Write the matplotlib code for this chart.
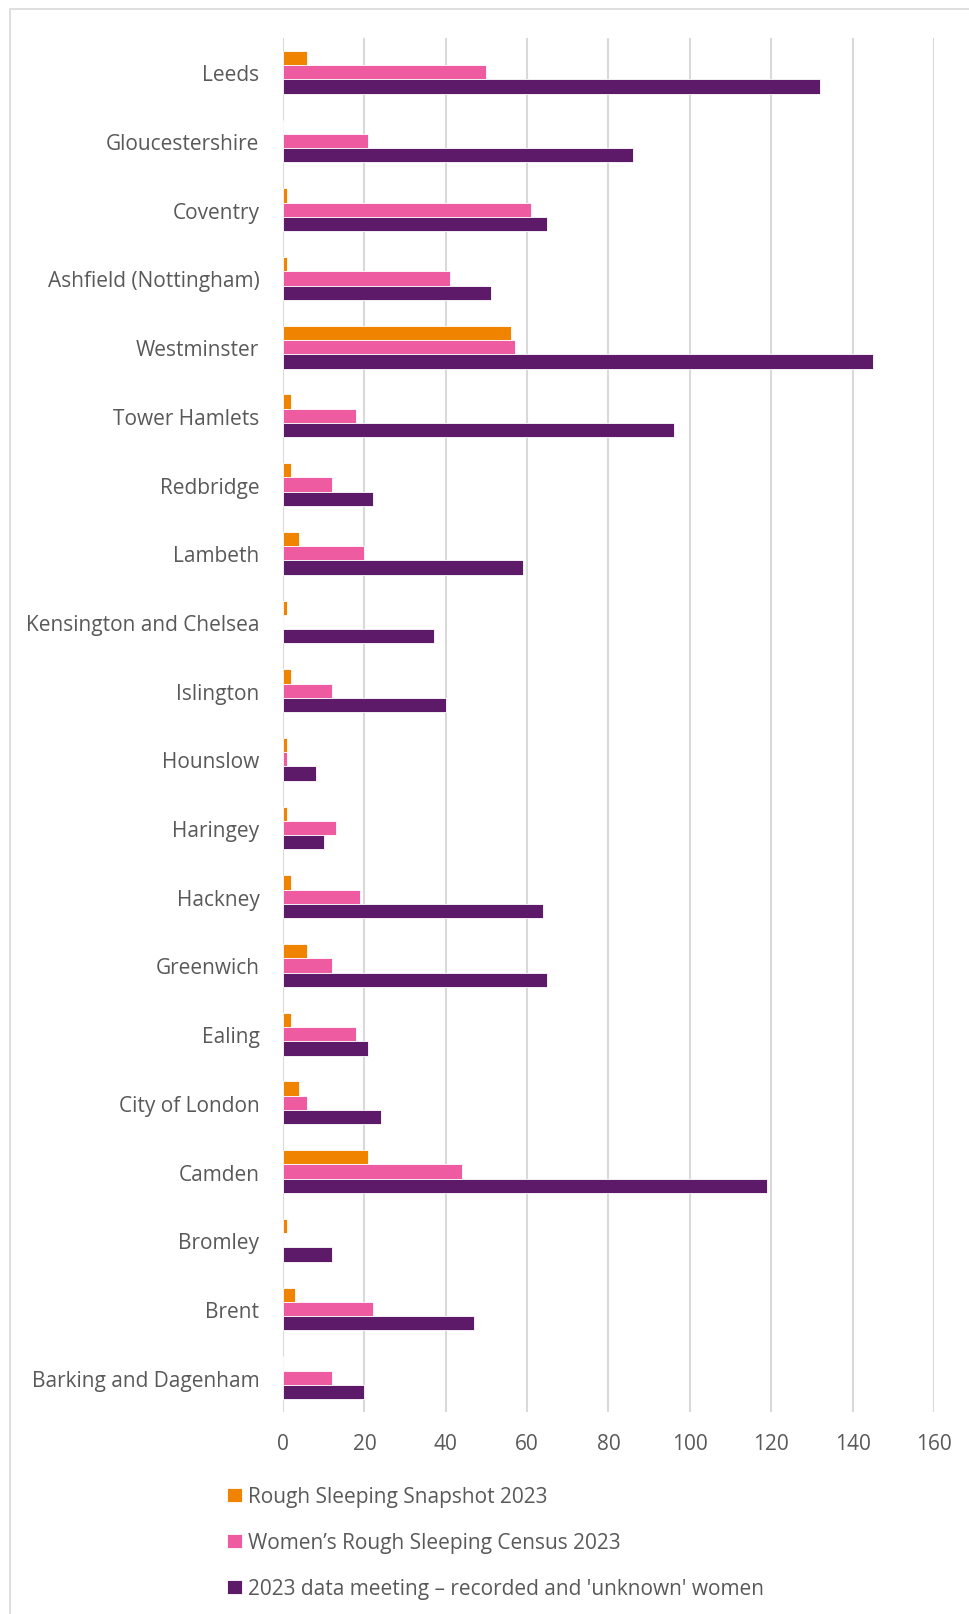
import matplotlib
matplotlib.use("Agg")
import matplotlib.pyplot as plt
import numpy as np
from matplotlib.patches import Rectangle

categories = ["Leeds", "Gloucestershire", "Coventry", "Ashfield (Nottingham)", "Westminster",
              "Tower Hamlets", "Redbridge", "Lambeth", "Kensington and Chelsea", "Islington",
              "Hounslow", "Haringey", "Hackney", "Greenwich", "Ealing", "City of London",
              "Camden", "Bromley", "Brent", "Barking and Dagenham"]
snapshot = [6, 0, 1, 1, 56, 2, 2, 4, 1, 2, 1, 1, 2, 6, 2, 4, 21, 1, 3, 0]
census = [50, 21, 61, 41, 57, 18, 12, 20, 0, 12, 1, 13, 19, 12, 18, 6, 44, 0, 22, 12]
meeting = [132, 86, 65, 51, 145, 96, 22, 59, 37, 40, 8, 10, 64, 65, 21, 24, 119, 12, 47, 20]
series_names = ["Rough Sleeping Snapshot 2023", "Women\u2019s Rough Sleeping Census 2023",
                "2023 data meeting \u2013 recorded and 'unknown' women"]
colors = ["#F08300", "#EE5BA0", "#5D1A69"]
xticks = [0, 20, 40, 60, 80, 100, 120, 140, 160]

plt.rcParams['font.family'] = ['Open Sans', 'DejaVu Sans']
txt = "#595959"

fig = plt.figure(figsize=(9.7, 16.15), dpi=100)
W, H = 970, 1615
ax = fig.add_axes([283 / W, 1 - 1413 / H, (934 - 283) / W, (1413 - 39) / H])

n = len(categories)
y = np.arange(n)
bh = 0.208
for i, (vals, c) in enumerate(zip([snapshot, census, meeting], colors)):
    ax.barh(y + (i - 1) * bh, vals, height=bh, color=c, edgecolor="white", linewidth=0.6,
            label=series_names[i], zorder=3)

ax.set_ylim(n - 0.5, -0.5)
ax.set_xlim(0, 160)
ax.set_xticks(xticks)
ax.set_xticklabels([str(t) for t in xticks], fontsize=15, color=txt)
ax.set_yticks(y)
ax.set_yticklabels(categories, fontsize=15, color=txt)
ax.tick_params(axis='both', length=0)
ax.tick_params(axis='x', pad=15)
ax.tick_params(axis='y', pad=17)
ax.grid(axis='x', color="#D9D9D9", linewidth=1.5, zorder=0)
for s in ax.spines.values():
    s.set_visible(False)

handles, labels = ax.get_legend_handles_labels()
leg = fig.legend(handles, labels, loc="upper left", bbox_to_anchor=(219 / W, 1 - 1479 / H),
                 frameon=False, fontsize=15, labelcolor=txt, handlelength=0.7, handleheight=0.7,
                 handletextpad=0.3, labelspacing=1.2, borderaxespad=0)

fig.patches.append(Rectangle((10 / W, -0.1), 1.2, (1 - 10 / H) + 0.1,
                             transform=fig.transFigure, fill=False, edgecolor="#D9D9D9",
                             linewidth=1.2, clip_on=False))
fig.savefig("out.png", dpi=100)
